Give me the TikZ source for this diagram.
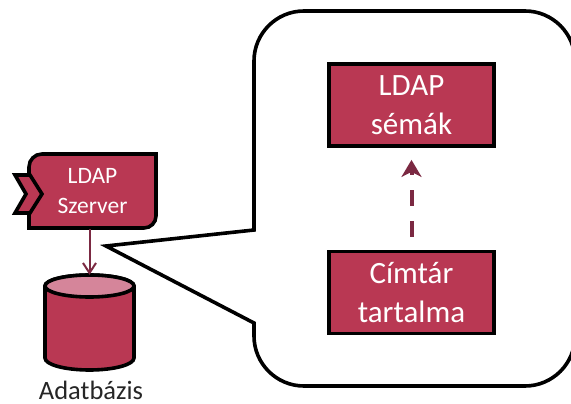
\documentclass[tikz,border=0pt]{standalone}
\usepackage{fontspec}
\setmainfont{Carlito}
\usetikzlibrary{arrows.meta}
\definecolor{boxred}{HTML}{B93853}
\definecolor{lightred}{HTML}{D5859A}
\definecolor{darkred}{HTML}{7B2942}
\definecolor{labelgrey}{HTML}{262626}
\tikzset{
  outline/.style={draw=black,line width=3.6pt,line join=miter},
  boxtext/.style={text=white,align=center,inner sep=0pt},
  bigbox/.style={boxtext,fill=boxred,draw=black,line width=3.8pt,minimum width=165pt,minimum height=82pt,
    font=\fontsize{31}{39.5}\selectfont},
  smalltext/.style={boxtext,minimum width=127pt,minimum height=74pt,font=\fontsize{23.5}{30}\selectfont},
  dbshape/.style={inner sep=0pt,minimum width=89pt,minimum height=95pt},
  flow/.style={draw=darkred,line width=2pt,-{Straight Barb[length=10pt,width=13pt,line width=2pt]}},
  dep/.style={draw=darkred,line width=4pt,dash pattern=on 16pt off 15pt,-{Stealth[length=17pt,width=20pt,inset=5pt]}}
}
\begin{document}
\begin{tikzpicture}[x=1pt,y=-1pt]
\useasboundingbox[fill=white] (0,0) rectangle (571,404);
% callout bubble
\begin{scope}
\clip (0,0) rectangle (571,404);
\draw[outline] (106,246) -- (254,230) -- (254,61) arc[start angle=180,end angle=270,radius=50]
  -- (525,11) arc[start angle=270,end angle=360,radius=50]
  -- (575,336) arc[start angle=0,end angle=90,radius=50]
  -- (304,386) arc[start angle=90,end angle=180,radius=50]
  -- (254,323) -- cycle;
\end{scope}
% server
\fill[boxred] (29,167) arc[start angle=180,end angle=270,radius=13] -- (156,154) -- (156,216)
  arc[start angle=0,end angle=90,radius=12] -- (29,228) -- cycle;
\draw[outline] (29,175) -- (29,167) arc[start angle=180,end angle=270,radius=13] -- (156,154) -- (156,216)
  arc[start angle=0,end angle=90,radius=12] -- (29,228) -- (29,213);
\draw[outline,fill=boxred] (15,175) -- (30,175) -- (42,194) -- (30,213) -- (15,213) -- (26,194) -- cycle;
\node[smalltext] (server) at (92.5,191) {LDAP\\Szerver};
% database
\node[dbshape] (db) at (89.5,322.5) {};
\path[outline,fill=boxred] (45,286) -- (45,358) arc[x radius=44.5,y radius=12,start angle=180,end angle=0]
  -- (134,286) arc[x radius=44.5,y radius=11,start angle=0,end angle=-180] -- cycle;
\path[outline,fill=lightred] (89.5,286) ellipse[x radius=44.5,y radius=11];
\node[text=labelgrey,inner sep=0pt,font=\fontsize{26.5}{30}\selectfont] (dblabel) at (91,390) {Adatbázis};
% right boxes
\node[bigbox] (schemas) at (411.5,105) {LDAP\\sémák};
\node[bigbox] (content) at (411.5,292.5) {Címtár\\tartalma};
% connectors
\draw[flow] (db.north |- server.south) ++(0,1) -- (db.north);
\draw[dep,shorten <=13pt,shorten >=12pt] (content.north) -- (schemas.south);
\end{tikzpicture}
\end{document}
